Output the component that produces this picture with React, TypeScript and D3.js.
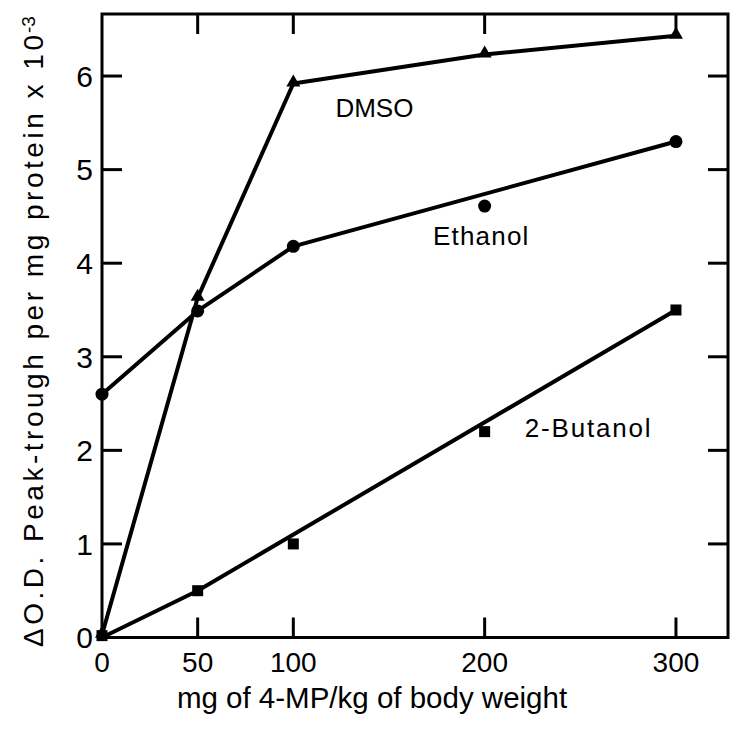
import React from "react";
import * as d3 from "d3";

const doses = [0, 50, 100, 200, 300];
const dmso = [0.03, 3.63, 5.92, 6.23, 6.43];
const ethanol = [2.6, 3.49, 4.18, 4.61, 5.3];
const butanol = [0.02, 0.5, 1.0, 2.2, 3.5];

// fitted lines as drawn in the figure
const ethanolLineX = [0, 50, 100, 300];
const ethanolLineY = [2.6, 3.49, 4.18, 5.3];
const butanolLineX = [0, 50, 300];
const butanolLineY = [0.0, 0.5, 3.5];

const xTickValues = [0, 50, 100, 200, 300];
const xTickMarks = [50, 100, 200, 300];
const yTickValues = [0, 1, 2, 3, 4, 5, 6];

const seriesLabels = ["DMSO", "Ethanol", "2-Butanol"];
const labelAtX = [122, 173, 221];
const labelAtY = [5.56, 4.19, 2.14];

const FONT = "'Liberation Sans', Arial, Helvetica, sans-serif";

export default function App() {
  const W = 732;
  const H = 733;
  const left = 102;
  const right = 728;
  const top = 14;
  const bottom = 637.5;

  const x = d3.scaleLinear().domain([0, 327.2]).range([left, right]);
  const y = d3.scaleLinear().domain([0, 6.663]).range([bottom, top]);

  const line = d3
    .line<[number, number]>()
    .x((d) => x(d[0]))
    .y((d) => y(d[1]));

  const zip = (xs: number[], ys: number[]) =>
    xs.map((v, i) => [v, ys[i]] as [number, number]);

  const tickLen = 20;
  const tri = d3.symbol().type(d3.symbolTriangle).size(85)();
  const labelSpacing = [0, 1.2, 1.8];

  return (
    <svg
      width={W}
      height={H}
      style={{ position: "absolute", left: 0, top: 0, background: "#fff" }}
    >
      <rect x={0} y={0} width={W} height={H} fill="#fff" />
      {/* frame */}
      <rect
        x={left}
        y={top}
        width={right - left}
        height={bottom - top}
        fill="none"
        stroke="#000"
        strokeWidth={3}
      />
      {/* y ticks left and right */}
      {yTickValues
        .filter((v) => v > 0)
        .map((v) => (
          <g key={"yt" + v}>
            <line x1={left} x2={left + tickLen} y1={y(v)} y2={y(v)} stroke="#000" strokeWidth={3} />
            <line x1={right - tickLen} x2={right} y1={y(v)} y2={y(v)} stroke="#000" strokeWidth={3} />
          </g>
        ))}
      {/* x ticks bottom and top */}
      {xTickMarks.map((v) => (
        <g key={"xt" + v}>
          <line x1={x(v)} x2={x(v)} y1={bottom} y2={bottom - tickLen} stroke="#000" strokeWidth={3} />
          <line x1={x(v)} x2={x(v)} y1={top} y2={top + tickLen} stroke="#000" strokeWidth={3} />
        </g>
      ))}
      {/* y tick labels */}
      {yTickValues.map((v) => (
        <text
          key={"yl" + v}
          x={left - 9}
          y={y(v)}
          dy="0.36em"
          textAnchor="end"
          fontFamily={FONT}
          fontSize={30}
          fill="#000"
        >
          {v}
        </text>
      ))}
      {/* x tick labels */}
      {xTickValues.map((v) => (
        <text
          key={"xl" + v}
          x={x(v)}
          y={672}
          textAnchor="middle"
          fontFamily={FONT}
          fontSize={28}
          fill="#000"
        >
          {v}
        </text>
      ))}
      {/* axis titles */}
      <text x={372} y={708} textAnchor="middle" fontFamily={FONT} fontSize={29.5} fill="#000">
        mg of 4-MP/kg of body weight
      </text>
      <g transform="translate(43,647) rotate(-90)">
        <text x={0} y={0} fontFamily={FONT} fontSize={28} fill="#000" textLength={612} lengthAdjust="spacing">
          ΔO.D. Peak-trough per mg protein x 10
        </text>
        <text x={614} y={-8} fontFamily={FONT} fontSize={19} fill="#000">
          -3
        </text>
      </g>
      {/* lines */}
      <path d={line(zip(doses, dmso)) || ""} fill="none" stroke="#000" strokeWidth={4} strokeLinejoin="round" />
      <path d={line(zip(ethanolLineX, ethanolLineY)) || ""} fill="none" stroke="#000" strokeWidth={4} strokeLinejoin="round" />
      <path d={line(zip(butanolLineX, butanolLineY)) || ""} fill="none" stroke="#000" strokeWidth={4} strokeLinejoin="round" />
      {/* markers */}
      {doses.map((d, i) => (
        <path key={"tri" + i} d={tri || ""} transform={`translate(${x(d)},${y(dmso[i]) - 1})`} fill="#000" />
      ))}
      {doses.map((d, i) => (
        <circle key={"c" + i} cx={x(d)} cy={y(ethanol[i])} r={6.5} fill="#000" />
      ))}
      {doses.map((d, i) => (
        <rect key={"s" + i} x={x(d) - 5.5} y={y(butanol[i]) - 5.5} width={11} height={11} fill="#000" />
      ))}
      {/* series labels */}
      {seriesLabels.map((t, i) => (
        <text
          key={t}
          x={x(labelAtX[i])}
          y={y(labelAtY[i])}
          fontFamily={FONT}
          fontSize={26}
          letterSpacing={labelSpacing[i]}
          fill="#000"
        >
          {t}
        </text>
      ))}
    </svg>
  );
}
